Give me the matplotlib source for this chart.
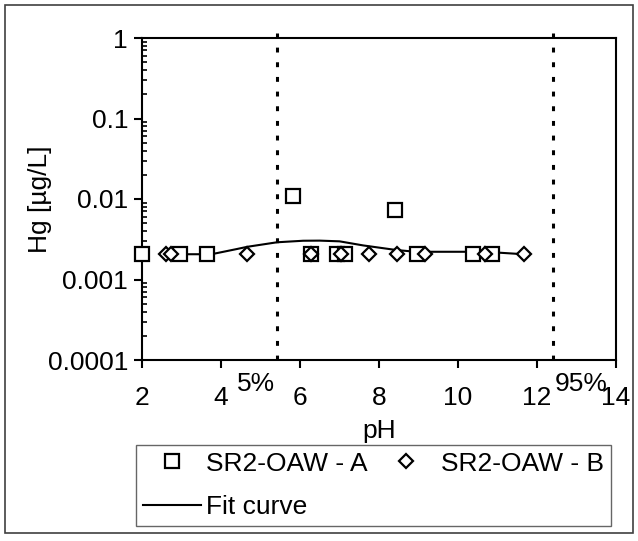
import numpy as np
import matplotlib
matplotlib.use("Agg")
import matplotlib.pyplot as plt
from matplotlib.lines import Line2D
from matplotlib.patches import Rectangle
from matplotlib.ticker import LogLocator, FuncFormatter, NullFormatter
import matplotlib.transforms as mtransforms

plt.rcParams['font.family'] = ['Liberation Sans', 'DejaVu Sans']

### Data.

ph_a = [2.0, 2.96, 3.64, 5.82, 6.28, 6.93, 7.15, 8.40, 8.95, 10.38, 10.87]
hg_a = [0.0021, 0.0021, 0.0021, 0.011, 0.0021, 0.0021, 0.0021, 0.0072, 0.0021, 0.0021, 0.0021]

ph_b = [2.60, 2.74, 4.66, 6.28, 7.04, 7.74, 8.46, 9.16, 10.68, 11.66]
hg_b = [0.0021, 0.0021, 0.0021, 0.0021, 0.0021, 0.0021, 0.0021, 0.0021, 0.0021, 0.0021]

ph_fit = [2.96, 3.64, 3.8, 4.4, 4.67, 5.42, 6.08, 6.5, 7.0, 7.6, 8.45, 8.8, 9.2, 10.4, 10.87, 11.66]
hg_fit = [0.00206, 0.00206, 0.00208, 0.00239, 0.00255, 0.00290, 0.00303, 0.00304,
          0.00298, 0.00265, 0.00232, 0.00224, 0.00221, 0.00221, 0.00218, 0.00206]

p5, p95 = 5.42, 12.41

xticks = [2, 4, 6, 8, 10, 12, 14]
yticks = [0.0001, 0.001, 0.01, 0.1, 1]

### Figure.

fs = 19

fig = plt.figure(figsize=(6.38, 5.41), dpi=100)
ax = fig.add_axes([142/638, 1 - 360/541, (616 - 142)/638, (360 - 38)/541])

fig.patches.append(Rectangle((5/638, 8/541), 628/638, 528/541, transform=fig.transFigure,
                             fill=False, edgecolor='#404040', lw=1.2))

ax.plot(ph_fit, hg_fit, '-', color='black', lw=1.5, zorder=2)
ax.plot(ph_a, hg_a, 's', ms=10, mfc='white', mec='black', mew=1.6, ls='none', zorder=3, clip_on=False)
ax.plot(ph_b, hg_b, 'D', ms=6.8, mfc='white', mec='black', mew=1.6, ls='none', zorder=4, clip_on=False)

for p in (p5, p95):
    ax.axvline(p, ymin=0, ymax=1.016, color='black', lw=2.2, dashes=(1.6, 3.2), clip_on=False, zorder=1)

ax.set_yscale('log')
ax.set_xlim(2, 14)
ax.set_ylim(1e-4, 1)
ax.set_xticks(xticks)
ax.set_yticks(yticks)
ax.yaxis.set_major_formatter(FuncFormatter(lambda v, pos: '%g' % v))
ax.yaxis.set_minor_locator(LogLocator(base=10, subs=np.arange(2, 10)))
ax.yaxis.set_minor_formatter(NullFormatter())

for s in ax.spines.values():
    s.set_linewidth(1.5)

ax.tick_params(axis='x', which='major', direction='out', length=6, width=1.5, labelsize=fs, pad=13)
ax.tick_params(axis='y', which='major', direction='out', length=6, width=1.5, labelsize=fs, pad=4)
ax.tick_params(axis='y', which='minor', direction='in', length=3.5, width=1.2)

ax.set_xlabel('pH', fontsize=fs, labelpad=6)
ax.set_ylabel('Hg [µg/L]', fontsize=fs)
ax.yaxis.set_label_coords(-0.19, 0.5)

trans = mtransforms.blended_transform_factory(ax.transData, ax.transAxes)
ax.text(p5 - 0.05, -0.075, '5%', transform=trans, ha='right', va='center', fontsize=fs)
ax.text(p95 + 0.03, -0.075, '95%', transform=trans, ha='left', va='center', fontsize=fs)

handles = [
    Line2D([], [], marker='s', ms=10, mfc='white', mec='black', mew=1.6, ls='none'),
    Line2D([], [], color='black', lw=1.5),
    Line2D([], [], marker='D', ms=6.8, mfc='white', mec='black', mew=1.6, ls='none'),
]
labels = ['SR2-OAW - A', 'Fit curve', 'SR2-OAW - B']
leg = fig.legend(handles, labels, ncol=2, loc='upper left',
                 bbox_to_anchor=(136/638, 1 - 445/541), fontsize=fs,
                 frameon=True, fancybox=False, edgecolor='#404040',
                 handlelength=2.2, handletextpad=0.22, columnspacing=0.35,
                 labelspacing=0.75, borderpad=0.25, borderaxespad=0, numpoints=1)
leg.get_frame().set_linewidth(1.0)

fig.savefig('out.png', dpi=100)
